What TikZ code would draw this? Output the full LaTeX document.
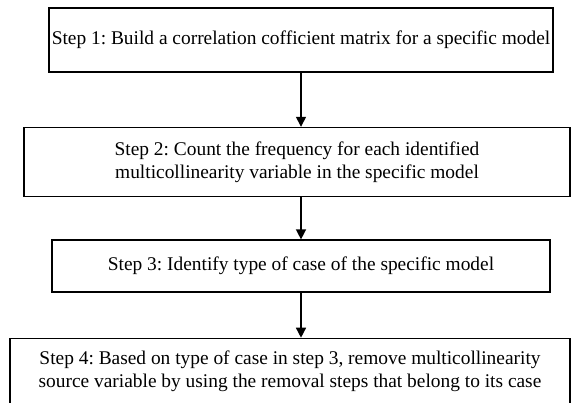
\documentclass[tikz,border=0pt]{standalone}
\usepackage{fontspec}
\setmainfont{Liberation Serif}
\usetikzlibrary{arrows.meta, positioning}
\frenchspacing

\begin{document}
\begin{tikzpicture}[
  x=1pt, y=1pt,
  stepbox/.style={rectangle, draw=black, line width=1.6pt, align=center,
                  inner sep=0pt, font=\fontsize{19.4}{23}\selectfont},
  arrow/.style={-{Triangle[length=10pt, width=10pt]}, line width=1.4pt}
]
\useasboundingbox (0,0) rectangle (573,-402);
\node[stepbox, minimum width=504pt, minimum height=64pt] (s1) at (301,-40)
  {Step 1: Build a correlation cofficient matrix for a specific model};
\node[stepbox, minimum width=546pt, minimum height=69pt,
      below=54pt of s1, xshift=-4pt] (s2)
  {Step 2: Count the frequency for each identified\\
   multicollinearity variable in the specific model};
\node[stepbox, minimum width=498pt, minimum height=52pt, line width=1.3pt,
      below=42pt of s2, xshift=4pt] (s3)
  {Step 3: Identify type of case of the specific model};
\node[stepbox, minimum width=560pt, minimum height=65pt, line width=1.3pt,
      below=45pt of s3, xshift=-11pt] (s4)
  {Step 4: Based on type of case in step 3, remove multicollinearity\\
   source variable by using the removal steps that belong to its case};
\draw[arrow] (s1.south) -- (s1.south |- s2.north);
\draw[arrow] (s2.south -| s1.south) -- (s3.north);
\draw[arrow] (s3.south) -- (s3.south |- s4.north);
\end{tikzpicture}
\end{document}
